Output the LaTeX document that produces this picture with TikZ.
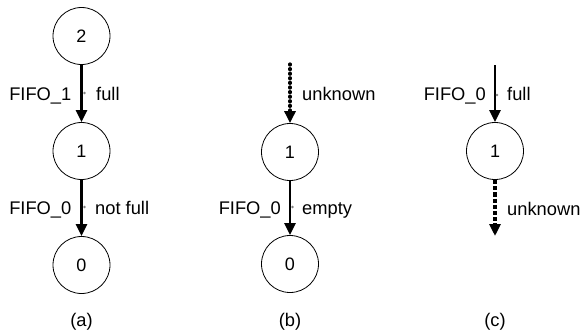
\documentclass[tikz,border=0pt]{standalone}
\usepackage{fontspec}
\setmainfont{Liberation Sans}
\usetikzlibrary{arrows.meta}
\begin{document}
\begin{tikzpicture}[x=1pt,y=-1pt,
  state/.style={circle,draw,line width=0.8pt,minimum size=57pt,inner sep=0pt,font=\fontsize{18}{21}\selectfont},
  lbl/.style={inner sep=0pt,font=\fontsize{18.3}{21}\selectfont},
  arr/.style={line width=2.6pt,-{Triangle[length=12pt,width=11pt]}},
  dotarr/.style={arr,line cap=round,dash pattern=on 1pt off 3.6pt,line width=3.2pt},
  dasharr/.style={arr,dash pattern=on 4.2pt off 2pt,line width=3.2pt},
  middot/.style={circle,fill=gray,inner sep=0pt,minimum size=2.6pt}]
\useasboundingbox (0,0) rectangle (581,335);
% (a)
\node[state] (a2) at (81.5,36) {2};
\node[state] (a1) at (81.5,151) {1};
\node[state] (a0) at (81.5,265) {0};
\draw[arr] (a2) -- (a1);
\draw[arr] (a1) -- (a0);
\node[middot] (ad1) at (84.5,93) {};
\node[middot] (ad2) at (84.5,207) {};
\node[lbl,anchor=base east] (aL1) at (71.5,100) {FIFO\_1};
\node[lbl,anchor=base west] (aR1) at (96,100) {full};
\node[lbl,anchor=base east] (aL2) at (71.5,214) {FIFO\_0};
\node[lbl,anchor=base west] (aR2) at (95,214) {not full};
\node[lbl,anchor=base] (acap) at (81.5,326) {(a)};
% (b)
\coordinate (bs) at (290,64);
\node[state] (b1) at (290,152) {1};
\node[state] (b0) at (290,264) {0};
\draw[dotarr] (bs) -- (b1);
\draw[arr] (b1) -- (b0);
\node[middot] (bd2) at (292.5,207) {};
\node[lbl,anchor=base west] (bR1) at (302,100.5) {unknown};
\node[lbl,anchor=base east] (bL2) at (281,214) {FIFO\_0};
\node[lbl,anchor=base west] (bR2) at (302,214) {empty};
\node[lbl,anchor=base] (bcap) at (290,326) {(b)};
% (c)
\coordinate (cs) at (495,65);
\node[state] (c1) at (495,151) {1};
\coordinate (ce) at (495,236);
\draw[arr] (cs) -- (c1);
\draw[dasharr] (c1) -- (ce);
\node[middot] (cd1) at (497,95) {};
\node[lbl,anchor=base east] (cL1) at (486,100.5) {FIFO\_0};
\node[lbl,anchor=base west] (cR1) at (507,100.5) {full};
\node[lbl,anchor=base west] (cR2) at (507,215) {unknown};
\node[lbl,anchor=base] (ccap) at (495,326) {(c)};
\end{tikzpicture}
\end{document}
